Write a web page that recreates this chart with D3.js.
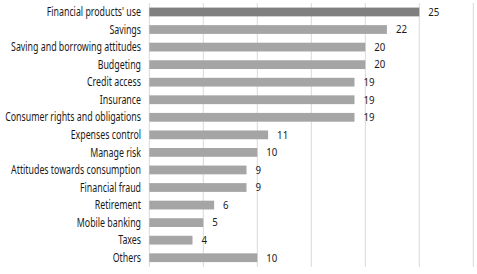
<!DOCTYPE html>
<html><head><meta charset="utf-8">
<script src="https://cdn.jsdelivr.net/npm/d3@7"></script>
<style>
html,body{margin:0;padding:0;background:#fff;}
svg text{font-family:"Noto Sans","Open Sans",sans-serif;fill:#1a1a1a;}
</style></head>
<body><svg id="c" width="477" height="274"></svg>
<script>
const categories = ["Financial products' use","Savings","Saving and borrowing attitudes","Budgeting","Credit access","Insurance","Consumer rights and obligations","Expenses control","Manage risk","Attitudes towards consumption","Financial fraud","Retirement","Mobile banking","Taxes","Others"];
const values = [25,22,20,20,19,19,19,11,10,9,9,6,5,4,10];
const ticks = [0,5,10,15,20,25,30];

const svg = d3.select("#c");
const x = d3.scaleLinear().domain([0,30]).range([149.3,473.3]);
const y = d3.scaleBand().domain(categories).range([3.2,266.5]).paddingInner(0.5).paddingOuter(0.25);

svg.append("g").selectAll("line").data(ticks).join("line")
  .attr("x1",d=>x(d)).attr("x2",d=>x(d)).attr("y1",3).attr("y2",267)
  .attr("stroke","#d9d9d9").attr("stroke-width",1);

svg.append("g").selectAll("rect").data(categories).join("rect")
  .attr("x",x(0)).attr("y",d=>y(d)).attr("width",(d,i)=>x(values[i])-x(0)).attr("height",y.bandwidth())
  .attr("fill",(d,i)=>i===0?"#7f7f7f":"#a5a5a5");

const lg = svg.append("g");
const labels = lg.selectAll("text").data(categories).join("text")
  .attr("x",0).attr("y",d=>y(d)+y.bandwidth()/2).attr("dy","0.35em")
  .attr("text-anchor","end").attr("font-size",12).text(d=>d);
let maxW = 0;
labels.each(function(){ maxW = Math.max(maxW, this.getComputedTextLength()); });
const s = 136 / maxW;
lg.attr("transform",`translate(141,0) scale(${s},1)`);

svg.append("g").selectAll("text").data(categories).join("text")
  .attr("x",0).attr("y",d=>y(d)+y.bandwidth()/2).attr("dy","0.35em")
  .attr("font-size",11).attr("transform",(d,i)=>`translate(${x(values[i])+9},0) scale(0.88,1)`)
  .text((d,i)=>values[i]);
</script></body></html>
